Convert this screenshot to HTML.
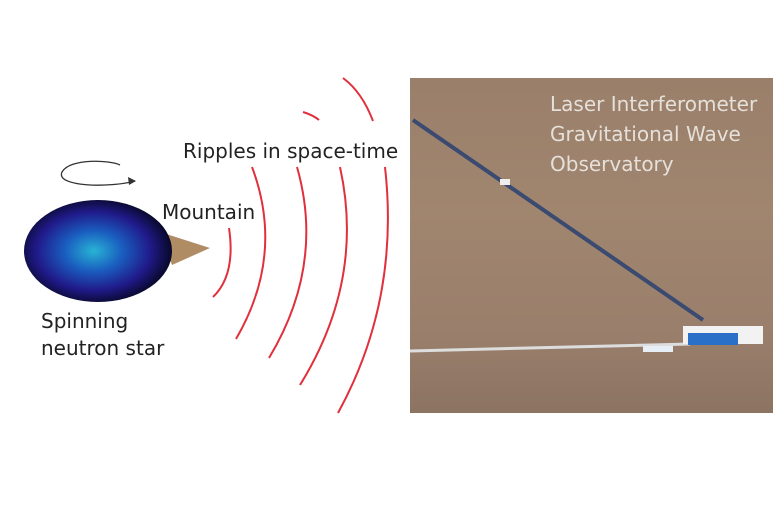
<!DOCTYPE html>
<html><head><style>
body{margin:0;width:780px;height:519px;background:#fff;overflow:hidden;position:relative;font-family:"DejaVu Sans","Liberation Sans",sans-serif;}
.t{position:absolute;color:#222;font-size:20px;white-space:nowrap}
.p{position:absolute;left:410px;top:78px;width:363px;height:335px;background:linear-gradient(180deg,#9a7f6a 0%,#a0856f 40%,#9a7f6c 75%,#8c7462 100%);}
.w{position:absolute;color:#e6e0da;font-size:20px;line-height:30px;left:550px;top:89px;white-space:nowrap}
</style></head><body>
<div class="p"></div>
<svg width="780" height="519" style="position:absolute;left:0;top:0">
<defs>
<radialGradient id="g" cx="0.47" cy="0.5" r="0.55">
<stop offset="0" stop-color="#28b4d4"/><stop offset="0.35" stop-color="#1a5fc0"/><stop offset="0.7" stop-color="#201a8a"/><stop offset="1" stop-color="#05051a"/></radialGradient>
</defs>
<polygon points="160,232 210,248 172,265" fill="#b08c64"/>
<ellipse cx="98" cy="251" rx="74" ry="51" fill="url(#g)"/>
<path d="M120,165 C110,160 70,158 62,172 C55,187 110,188 135,181" fill="none" stroke="#333" stroke-width="1.3"/>
<polygon points="136,181 128,177 129,185" fill="#333"/>
<g fill="none" stroke="#e0303c" stroke-width="2">
<path d="M229,228 Q236,275 213,297"/>
<path d="M252,167 Q285,255 236,339"/>
<path d="M297,167 Q325,265 269,358"/>
<path d="M340,167 Q365,280 300,385"/>
<path d="M385,167 Q400,300 338,413"/>
<path d="M343,78 Q362,92 373,121"/>
<path d="M303,112 Q313,115 319,120"/>
</g>
<g>
<line x1="413" y1="120" x2="703" y2="320" stroke="#3a4a70" stroke-width="4"/>
<line x1="410" y1="351" x2="690" y2="344" stroke="#ddd" stroke-width="3"/>
<rect x="683" y="326" width="80" height="18" fill="#f2f2f2"/>
<rect x="688" y="333" width="50" height="12" fill="#2a6fc8"/>
<rect x="643" y="346" width="30" height="6" fill="#e8eef6"/>
<rect x="500" y="179" width="10" height="6" fill="#eee"/>
</g>
</svg>
<div class="t" style="left:183px;top:139px">Ripples in space-time</div>
<div class="t" style="left:162px;top:200px">Mountain</div>
<div class="t" style="left:41px;top:308px;line-height:27px">Spinning<br>neutron star</div>
<div class="w">Laser Interferometer<br>Gravitational Wave<br>Observatory</div>
</body></html>
